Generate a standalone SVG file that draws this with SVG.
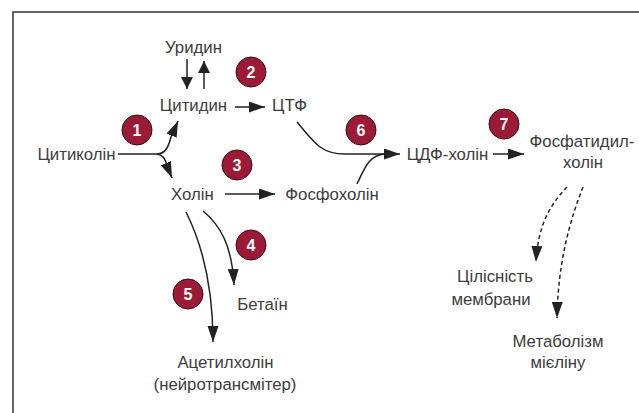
<svg xmlns="http://www.w3.org/2000/svg" width="639" height="413" viewBox="0 0 639 413">
<style>
.t{font-family:"Liberation Sans","DejaVu Sans",Arial,sans-serif;font-size:16.8px;fill:#3c3c3c;text-anchor:middle}
.n circle{fill:#9b1b36;stroke:#3a0a14;stroke-width:1}
.n text{font-family:"Liberation Sans",Arial,sans-serif;font-size:16px;font-weight:bold;fill:#fff;text-anchor:middle}
.c{fill:none;stroke:#222;stroke-width:1.5}
.d{stroke-dasharray:4 3}
</style>
<defs>
<marker id="ah" markerUnits="userSpaceOnUse" markerWidth="18" markerHeight="12" refX="16" refY="5.5" orient="auto"><path d="M0,0L16,5.5L0,11Z" fill="#222"/></marker>
<marker id="as" markerUnits="userSpaceOnUse" markerWidth="14" markerHeight="14" refX="12" refY="6" orient="auto"><path d="M0,0L12,6L0,12Z" fill="#222"/></marker>
</defs>
<rect width="639" height="413" fill="#fff"/>
<path d="M13,413V12H639" fill="none" stroke="#333" stroke-width="1.5"/>
<g id="connectors">
<path class="c" d="M187,59V89" marker-end="url(#as)"/>
<path class="c" d="M204,89V61" marker-end="url(#as)"/>
<path class="c" d="M235,107H265" marker-end="url(#ah)"/>
<path class="c" d="M118,154H157C166,154 169,145 171,137L178,121" marker-end="url(#ah)"/>
<path class="c" d="M157,154C164,155 166,160 167,166L172,178" marker-end="url(#ah)"/>
<path class="c" d="M225,194H275" marker-end="url(#ah)"/>
<path class="c" d="M297,122C315,144 322,154 345,154H400" marker-end="url(#ah)"/>
<path class="c" d="M357,184C364,170 368,155 385,154"/>
<path class="c" d="M493,154H524" marker-end="url(#ah)"/>
<path class="c" d="M203,211C220,225 232,245 234,285" marker-end="url(#ah)"/>
<path class="c" d="M186,212C200,240 213,280 213,342" marker-end="url(#ah)"/>
<path class="c d" d="M567,187C550,205 538,225 536,262" marker-end="url(#ah)"/>
<path class="c d" d="M583,187C570,220 558,262 557,318" marker-end="url(#ah)"/>
</g>
<g id="uridine"><text class="t" x="193.5" y="53">Уридин</text></g>
<g id="cytidine"><text class="t" x="193.5" y="111">Цитидин</text></g>
<g id="ctp"><text class="t" x="289.5" y="111">ЦТФ</text></g>
<g id="citicoline"><text class="t" x="76.5" y="160">Цитиколін</text></g>
<g id="choline"><text class="t" x="192.5" y="200">Холін</text></g>
<g id="phosphocholine"><text class="t" x="332" y="200">Фосфохолін</text></g>
<g id="cdp-choline"><text class="t" x="447.5" y="160">ЦДФ-холін</text></g>
<g id="phosphatidylcholine"><text class="t" x="582" y="147">Фосфатидил-</text><text class="t" x="583" y="168">холін</text></g>
<g id="betaine"><text class="t" x="262.5" y="310">Бетаїн</text></g>
<g id="acetylcholine"><text class="t" x="225.5" y="368">Ацетилхолін</text><text class="t" x="225" y="390">(нейротрансмітер)</text></g>
<g id="membrane"><text class="t" x="495" y="282">Цілісність</text><text class="t" x="491" y="305">мембрани</text></g>
<g id="myelin"><text class="t" x="558" y="347">Метаболізм</text><text class="t" x="558" y="368">мієліну</text></g>
<g id="n1" class="n"><circle cx="137" cy="130" r="15"/><text x="137" y="135.8">1</text></g>
<g id="n2" class="n"><circle cx="251" cy="72" r="15"/><text x="251" y="77.8">2</text></g>
<g id="n3" class="n"><circle cx="237" cy="165" r="15"/><text x="237" y="170.8">3</text></g>
<g id="n4" class="n"><circle cx="251" cy="245" r="15"/><text x="251" y="250.8">4</text></g>
<g id="n5" class="n"><circle cx="188" cy="294" r="15"/><text x="188" y="299.8">5</text></g>
<g id="n6" class="n"><circle cx="361" cy="130" r="15"/><text x="361" y="135.8">6</text></g>
<g id="n7" class="n"><circle cx="504" cy="124" r="15"/><text x="504" y="129.8">7</text></g>
</svg>
